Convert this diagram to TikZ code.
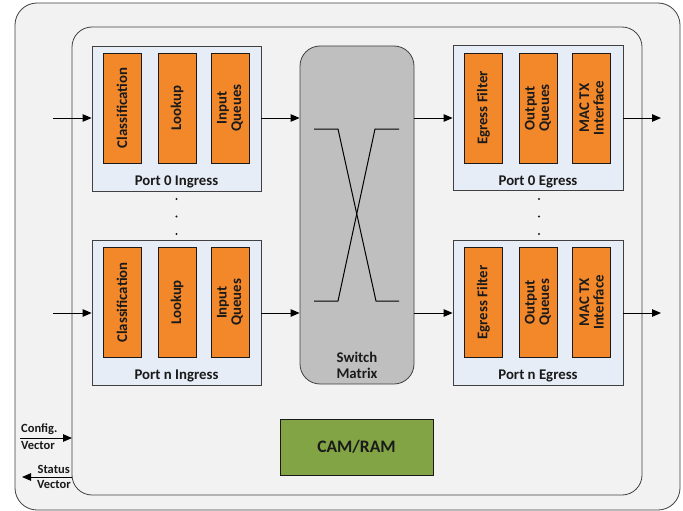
\documentclass[tikz,border=0pt]{standalone}
\usepackage{fontspec}
\setmainfont{Carlito}
\usetikzlibrary{arrows.meta}
\definecolor{framefill}{HTML}{F2F2F2}
\definecolor{framedraw}{HTML}{404040}
\definecolor{portfill}{HTML}{E6EDF7}
\definecolor{blockfill}{HTML}{F2882A}
\definecolor{matrixfill}{HTML}{BFBFBF}
\definecolor{memfill}{HTML}{83A445}
\definecolor{ink}{HTML}{1A1A1A}
\begin{document}
\begin{tikzpicture}[x=1pt,y=-1pt,
  frame/.style={draw=framedraw,fill=framefill,line width=0.8pt,rounded corners=22pt},
  portbox/.style={draw=framedraw,fill=portfill,line width=0.8pt,minimum width=169pt,minimum height=145pt,inner sep=0pt},
  block/.style={draw=ink,fill=blockfill,line width=0.8pt,minimum width=38pt,minimum height=110pt,inner sep=0pt},
  blocktext/.style={rotate=90,align=center,font=\fontsize{14.8}{14.5}\selectfont\bfseries,text=ink},
  portlabel/.style={font=\fontsize{14.8}{16}\selectfont\bfseries,text=ink},
  flow/.style={-{Triangle[length=9pt,width=7.5pt]},line width=1pt,draw=black},
  sidelabel/.style={font=\fontsize{12.5}{13}\selectfont\bfseries,text=ink,inner sep=0pt},
  cross/.style={draw=black,line width=1pt},
  dot/.style={circle,fill=ink,inner sep=0pt,minimum size=2.2pt}
]
\useasboundingbox (0,0) rectangle (683,511);
\fill[white] (0,0) rectangle (683,511);

% outer and inner frames
\draw[frame] (15,3) rectangle (680,510);
\draw[frame,rounded corners=20pt] (72,27) rectangle (642,495);

% ingress ports
\node[portbox] (in0) at (176.5,118.5) {};
\node[portbox] (inN) at (176.5,312.5) {};
\foreach \p/\yc/\lab in {0/108/0, N/302.5/n}{
  \node[block] (cls\p) at (122,\yc) {};
  \node[block] (lku\p) at (177,\yc) {};
  \node[block] (inq\p) at (230,\yc) {};
  \node[blocktext] at (cls\p) {Classification};
  \node[blocktext] at (lku\p) {Lookup};
  \node[blocktext] at (inq\p) {Input\\Queues};
}
\node[portlabel] (in0lab) at (176.5,182) {Port 0 Ingress};
\node[portlabel] (inNlab) at (176.5,376) {Port n Ingress};

% egress ports
\node[portbox,minimum width=170pt] (eg0) at (538,118) {};
\node[portbox,minimum width=170pt] (egN) at (538,312.5) {};
\foreach \p/\yc in {0/108, N/302.5}{
  \node[block] (egf\p) at (483.5,\yc) {};
  \node[block] (outq\p) at (538,\yc) {};
  \node[block] (mac\p) at (591.5,\yc) {};
  \node[blocktext] at (egf\p) {Egress Filter};
  \node[blocktext] at (outq\p) {Output\\Queues};
  \node[blocktext] at (mac\p) {MAC TX\\Interface};
}
\node[portlabel] (eg0lab) at (538,182) {Port 0 Egress};
\node[portlabel] (egNlab) at (538,376) {Port n Egress};

% ellipsis between port 0 and port n
\foreach \yy [count=\i] in {199,216.5,234}{
  \node[dot] (ldot\i) at (176.5,\yy) {};
  \node[dot] (rdot\i) at (539,\yy) {};
}

% switch matrix
\node[draw=framedraw,fill=matrixfill,line width=0.8pt,rounded corners=20pt,
      minimum width=114pt,minimum height=338pt,inner sep=0pt] (sw) at (357,215) {};
\node[portlabel,align=center] (swlab) at (357,365) {Switch\\Matrix};
\draw[cross] (314,129) -- (338,129) -- (376,301) -- (399,301);
\draw[cross] (399,129) -- (375,129) -- (338,301) -- (314,301);

% memory
\node[draw=ink,fill=memfill,line width=0.8pt,minimum width=153pt,minimum height=56pt,
      font=\fontsize{17.5}{18}\selectfont\bfseries,text=ink] (mem) at (356.5,447) {CAM/RAM};

% data path
\coordinate (src0) at (53,118);
\coordinate (srcN) at (53,313);
\coordinate (dst0) at (661,118);
\coordinate (dstN) at (661,313);
\draw[flow] (src0) -- (src0 -| in0.west);
\draw[flow] (srcN) -- (srcN -| inN.west);
\draw[flow] (in0.east |- src0) -- (sw.west |- src0);
\draw[flow] (inN.east |- srcN) -- (sw.west |- srcN);
\draw[flow] (sw.east |- src0) -- (eg0.west |- src0);
\draw[flow] (sw.east |- srcN) -- (egN.west |- srcN);
\draw[flow] (eg0.east |- src0) -- (dst0);
\draw[flow] (egN.east |- srcN) -- (dstN);

% configuration and status vectors
\coordinate (cfgsrc) at (20,438);
\coordinate (cfgdst) at (72,438);
\coordinate (stsrc) at (72,477);
\coordinate (stdst) at (22,477);
\draw[flow] (cfgsrc) -- (cfgdst);
\draw[flow] (stsrc) -- (stdst);
\node[sidelabel,anchor=south west] (cfg1) at (21,435) {Config.};
\node[sidelabel,anchor=north west] (cfg2) at (21,441) {Vector};
\node[sidelabel,anchor=south east] (st1) at (70,474) {Status};
\node[sidelabel,anchor=north east] (st2) at (71,480) {Vector};
\end{tikzpicture}
\end{document}
